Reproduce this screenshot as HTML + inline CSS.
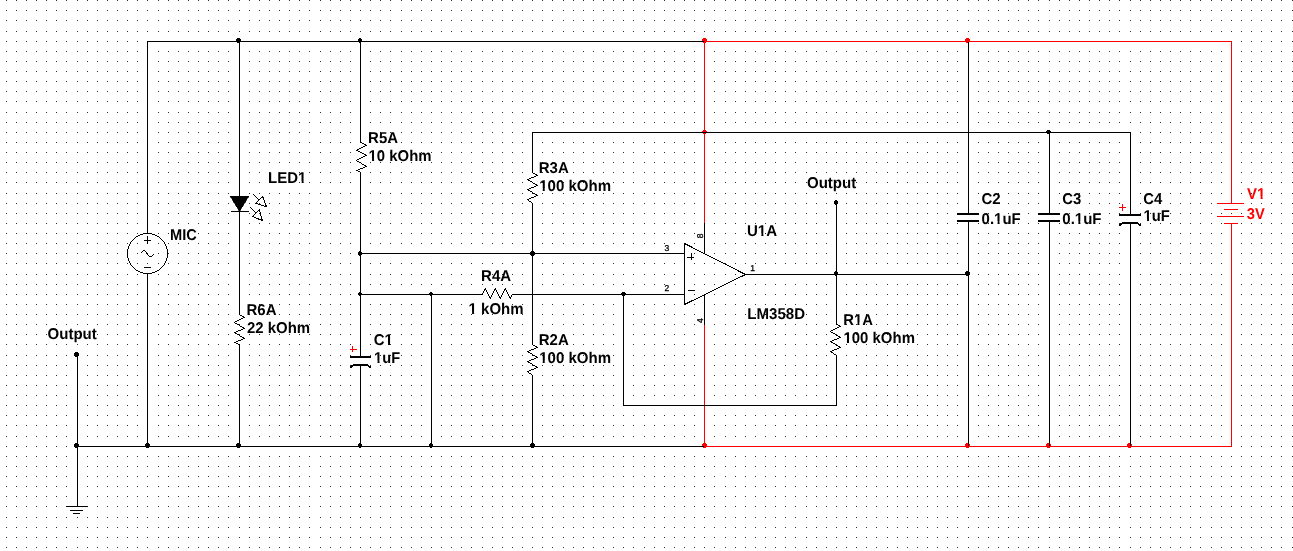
<!DOCTYPE html>
<html><head><meta charset="utf-8"><title>Schematic</title>
<style>
html,body{margin:0;padding:0;background:#fff;}
body{width:1293px;height:551px;overflow:hidden;}
svg{display:block;font-family:"Liberation Sans",sans-serif;font-kerning:none;font-variant-ligatures:none;text-rendering:geometricPrecision;}
</style></head><body>
<svg width="1293" height="551" viewBox="0 0 1293 551">
<defs><pattern id="g" x="0" y="0" width="81" height="81" patternUnits="userSpaceOnUse"><g fill="#2b2b2b" shape-rendering="crispEdges"><rect x="6" y="0" width="1" height="1"/><rect x="16" y="0" width="1" height="1"/><rect x="26" y="0" width="1" height="1"/><rect x="36" y="0" width="1" height="1"/><rect x="46" y="0" width="1" height="1"/><rect x="56" y="0" width="1" height="1"/><rect x="66" y="0" width="1" height="1"/><rect x="77" y="0" width="1" height="1"/><rect x="6" y="10" width="1" height="1"/><rect x="16" y="10" width="1" height="1"/><rect x="26" y="10" width="1" height="1"/><rect x="36" y="10" width="1" height="1"/><rect x="46" y="10" width="1" height="1"/><rect x="56" y="10" width="1" height="1"/><rect x="66" y="10" width="1" height="1"/><rect x="77" y="10" width="1" height="1"/><rect x="6" y="20" width="1" height="1"/><rect x="16" y="20" width="1" height="1"/><rect x="26" y="20" width="1" height="1"/><rect x="36" y="20" width="1" height="1"/><rect x="46" y="20" width="1" height="1"/><rect x="56" y="20" width="1" height="1"/><rect x="66" y="20" width="1" height="1"/><rect x="77" y="20" width="1" height="1"/><rect x="6" y="31" width="1" height="1"/><rect x="16" y="31" width="1" height="1"/><rect x="26" y="31" width="1" height="1"/><rect x="36" y="31" width="1" height="1"/><rect x="46" y="31" width="1" height="1"/><rect x="56" y="31" width="1" height="1"/><rect x="66" y="31" width="1" height="1"/><rect x="77" y="31" width="1" height="1"/><rect x="6" y="41" width="1" height="1"/><rect x="16" y="41" width="1" height="1"/><rect x="26" y="41" width="1" height="1"/><rect x="36" y="41" width="1" height="1"/><rect x="46" y="41" width="1" height="1"/><rect x="56" y="41" width="1" height="1"/><rect x="66" y="41" width="1" height="1"/><rect x="77" y="41" width="1" height="1"/><rect x="6" y="51" width="1" height="1"/><rect x="16" y="51" width="1" height="1"/><rect x="26" y="51" width="1" height="1"/><rect x="36" y="51" width="1" height="1"/><rect x="46" y="51" width="1" height="1"/><rect x="56" y="51" width="1" height="1"/><rect x="66" y="51" width="1" height="1"/><rect x="77" y="51" width="1" height="1"/><rect x="6" y="61" width="1" height="1"/><rect x="16" y="61" width="1" height="1"/><rect x="26" y="61" width="1" height="1"/><rect x="36" y="61" width="1" height="1"/><rect x="46" y="61" width="1" height="1"/><rect x="56" y="61" width="1" height="1"/><rect x="66" y="61" width="1" height="1"/><rect x="77" y="61" width="1" height="1"/><rect x="6" y="71" width="1" height="1"/><rect x="16" y="71" width="1" height="1"/><rect x="26" y="71" width="1" height="1"/><rect x="36" y="71" width="1" height="1"/><rect x="46" y="71" width="1" height="1"/><rect x="56" y="71" width="1" height="1"/><rect x="66" y="71" width="1" height="1"/><rect x="77" y="71" width="1" height="1"/></g></pattern></defs>
<rect width="1293" height="551" fill="#fff"/>
<rect width="1293" height="551" fill="url(#g)"/>
<g shape-rendering="crispEdges"><rect x="237" y="38" width="3" height="5" fill="#000"/><rect x="236" y="39" width="5" height="3" fill="#000"/><rect x="359" y="38" width="2" height="5" fill="#000"/><rect x="358" y="39" width="4" height="3" fill="#000"/><rect x="359" y="251" width="2" height="5" fill="#000"/><rect x="358" y="252" width="4" height="3" fill="#000"/><rect x="531" y="251" width="3" height="5" fill="#000"/><rect x="530" y="252" width="5" height="3" fill="#000"/><rect x="359" y="292" width="2" height="4" fill="#000"/><rect x="358" y="293" width="4" height="2" fill="#000"/><rect x="430" y="292" width="2" height="4" fill="#000"/><rect x="429" y="293" width="4" height="2" fill="#000"/><rect x="622" y="292" width="3" height="4" fill="#000"/><rect x="621" y="293" width="5" height="2" fill="#000"/><rect x="835" y="271" width="2" height="5" fill="#000"/><rect x="834" y="272" width="4" height="3" fill="#000"/><rect x="966" y="271" width="3" height="5" fill="#000"/><rect x="965" y="272" width="5" height="3" fill="#000"/><rect x="1047" y="130" width="3" height="4" fill="#000"/><rect x="1046" y="131" width="5" height="2" fill="#000"/><rect x="75" y="443" width="3" height="5" fill="#000"/><rect x="74" y="444" width="5" height="3" fill="#000"/><rect x="146" y="443" width="3" height="5" fill="#000"/><rect x="145" y="444" width="5" height="3" fill="#000"/><rect x="237" y="443" width="3" height="5" fill="#000"/><rect x="236" y="444" width="5" height="3" fill="#000"/><rect x="359" y="443" width="2" height="5" fill="#000"/><rect x="358" y="444" width="4" height="3" fill="#000"/><rect x="430" y="443" width="2" height="5" fill="#000"/><rect x="429" y="444" width="4" height="3" fill="#000"/><rect x="531" y="443" width="3" height="5" fill="#000"/><rect x="530" y="444" width="5" height="3" fill="#000"/><rect x="75" y="352" width="3" height="5" fill="#000"/><rect x="74" y="353" width="5" height="3" fill="#000"/><rect x="835" y="200" width="2" height="5" fill="#000"/><rect x="834" y="201" width="4" height="3" fill="#000"/><rect x="703" y="38" width="3" height="5" fill="#ff0000"/><rect x="702" y="39" width="5" height="3" fill="#ff0000"/><rect x="966" y="38" width="3" height="5" fill="#ff0000"/><rect x="965" y="39" width="5" height="3" fill="#ff0000"/><rect x="703" y="443" width="3" height="5" fill="#ff0000"/><rect x="702" y="444" width="5" height="3" fill="#ff0000"/><rect x="966" y="443" width="3" height="5" fill="#ff0000"/><rect x="965" y="444" width="5" height="3" fill="#ff0000"/><rect x="1047" y="443" width="3" height="5" fill="#ff0000"/><rect x="1046" y="444" width="5" height="3" fill="#ff0000"/><rect x="1128" y="443" width="3" height="5" fill="#ff0000"/><rect x="1127" y="444" width="5" height="3" fill="#ff0000"/><rect x="703" y="130" width="3" height="4" fill="#ff0000"/><rect x="702" y="131" width="5" height="2" fill="#ff0000"/></g>
<g shape-rendering="crispEdges"><rect x="704" y="41" width="528" height="1" fill="#ff0000"/><rect x="704" y="446" width="528" height="1" fill="#ff0000"/><rect x="704" y="41" width="1" height="183" fill="#ff0000"/><rect x="704" y="325" width="1" height="122" fill="#ff0000"/><rect x="1231" y="41" width="1" height="163" fill="#ff0000"/><rect x="1231" y="223" width="1" height="224" fill="#ff0000"/><rect x="1217" y="203" width="27" height="1" fill="#ff0000"/><rect x="1224" y="209" width="14" height="1" fill="#ff0000"/><rect x="1217" y="216" width="27" height="1" fill="#ff0000"/><rect x="1224" y="223" width="14" height="1" fill="#ff0000"/><rect x="350" y="349" width="7" height="1" fill="#ff0000"/><rect x="352" y="346" width="1" height="6" fill="#ff0000"/><rect x="1119" y="207" width="7" height="1" fill="#ff0000"/><rect x="1122" y="204" width="1" height="7" fill="#ff0000"/><rect x="147" y="41" width="557" height="1" fill="#000"/><rect x="77" y="446" width="627" height="1" fill="#000"/><rect x="147" y="41" width="1" height="193" fill="#000"/><rect x="147" y="274" width="1" height="173" fill="#000"/><rect x="239" y="41" width="1" height="156" fill="#000"/><rect x="239" y="211" width="1" height="104" fill="#000"/><rect x="239" y="344" width="1" height="103" fill="#000"/><rect x="360" y="41" width="1" height="102" fill="#000"/><rect x="360" y="172" width="1" height="185" fill="#000"/><rect x="360" y="365" width="1" height="82" fill="#000"/><rect x="360" y="253" width="325" height="1" fill="#000"/><rect x="360" y="294" width="123" height="1" fill="#000"/><rect x="512" y="294" width="173" height="1" fill="#000"/><rect x="431" y="294" width="1" height="153" fill="#000"/><rect x="532" y="132" width="1" height="41" fill="#000"/><rect x="532" y="203" width="1" height="142" fill="#000"/><rect x="532" y="375" width="1" height="72" fill="#000"/><rect x="532" y="132" width="599" height="1" fill="#000"/><rect x="623" y="294" width="1" height="112" fill="#000"/><rect x="623" y="405" width="214" height="1" fill="#000"/><rect x="836" y="203" width="1" height="122" fill="#000"/><rect x="836" y="355" width="1" height="51" fill="#000"/><rect x="745" y="274" width="224" height="1" fill="#000"/><rect x="968" y="42" width="1" height="172" fill="#000"/><rect x="968" y="221" width="1" height="225" fill="#000"/><rect x="1049" y="132" width="1" height="82" fill="#000"/><rect x="1049" y="221" width="1" height="225" fill="#000"/><rect x="1130" y="132" width="1" height="83" fill="#000"/><rect x="1130" y="224" width="1" height="222" fill="#000"/><rect x="704" y="223" width="1" height="31" fill="#000"/><rect x="704" y="295" width="1" height="30" fill="#000"/><rect x="77" y="355" width="1" height="152" fill="#000"/><rect x="66" y="506" width="22" height="1" fill="#000"/><rect x="70" y="510" width="13" height="1" fill="#000"/><rect x="73" y="513" width="7" height="1" fill="#000"/><rect x="957" y="213" width="22" height="2" fill="#000"/><rect x="957" y="220" width="22" height="2" fill="#000"/><rect x="1038" y="213" width="22" height="2" fill="#000"/><rect x="1038" y="220" width="22" height="2" fill="#000"/><rect x="350" y="356" width="21" height="2" fill="#000"/><rect x="353" y="364" width="15" height="2" fill="#000"/><rect x="1119" y="214" width="22" height="2" fill="#000"/><rect x="1122" y="222" width="16" height="2" fill="#000"/><rect x="239" y="314" width="1" height="1" fill="#000"/><rect x="240" y="315" width="2" height="1" fill="#000"/><rect x="242" y="316" width="2" height="1" fill="#000"/><rect x="243" y="317" width="2" height="1" fill="#000"/><rect x="241" y="318" width="2" height="1" fill="#000"/><rect x="239" y="319" width="2" height="1" fill="#000"/><rect x="237" y="320" width="2" height="1" fill="#000"/><rect x="235" y="321" width="2" height="1" fill="#000"/><rect x="234" y="322" width="1" height="1" fill="#000"/><rect x="235" y="323" width="2" height="1" fill="#000"/><rect x="237" y="324" width="2" height="1" fill="#000"/><rect x="239" y="325" width="1" height="1" fill="#000"/><rect x="240" y="326" width="2" height="1" fill="#000"/><rect x="242" y="327" width="2" height="1" fill="#000"/><rect x="243" y="328" width="2" height="1" fill="#000"/><rect x="241" y="329" width="2" height="1" fill="#000"/><rect x="238" y="330" width="3" height="1" fill="#000"/><rect x="236" y="331" width="2" height="1" fill="#000"/><rect x="234" y="332" width="2" height="1" fill="#000"/><rect x="235" y="333" width="2" height="1" fill="#000"/><rect x="237" y="334" width="2" height="1" fill="#000"/><rect x="239" y="335" width="1" height="1" fill="#000"/><rect x="240" y="336" width="2" height="1" fill="#000"/><rect x="242" y="337" width="2" height="1" fill="#000"/><rect x="243" y="338" width="2" height="1" fill="#000"/><rect x="241" y="339" width="2" height="1" fill="#000"/><rect x="238" y="340" width="3" height="1" fill="#000"/><rect x="236" y="341" width="2" height="1" fill="#000"/><rect x="234" y="342" width="2" height="1" fill="#000"/><rect x="236" y="343" width="2" height="1" fill="#000"/><rect x="238" y="344" width="2" height="1" fill="#000"/><rect x="360" y="142" width="2" height="1" fill="#000"/><rect x="362" y="143" width="2" height="1" fill="#000"/><rect x="364" y="144" width="2" height="1" fill="#000"/><rect x="365" y="145" width="2" height="1" fill="#000"/><rect x="363" y="146" width="2" height="1" fill="#000"/><rect x="361" y="147" width="2" height="1" fill="#000"/><rect x="359" y="148" width="2" height="1" fill="#000"/><rect x="357" y="149" width="2" height="1" fill="#000"/><rect x="356" y="150" width="2" height="1" fill="#000"/><rect x="358" y="151" width="2" height="1" fill="#000"/><rect x="360" y="152" width="2" height="1" fill="#000"/><rect x="362" y="153" width="2" height="1" fill="#000"/><rect x="364" y="154" width="2" height="1" fill="#000"/><rect x="365" y="155" width="2" height="1" fill="#000"/><rect x="363" y="156" width="2" height="1" fill="#000"/><rect x="361" y="157" width="2" height="1" fill="#000"/><rect x="359" y="158" width="2" height="1" fill="#000"/><rect x="357" y="159" width="2" height="1" fill="#000"/><rect x="356" y="160" width="1" height="1" fill="#000"/><rect x="357" y="161" width="2" height="1" fill="#000"/><rect x="359" y="162" width="2" height="1" fill="#000"/><rect x="361" y="163" width="1" height="1" fill="#000"/><rect x="362" y="164" width="2" height="1" fill="#000"/><rect x="364" y="165" width="2" height="1" fill="#000"/><rect x="365" y="166" width="2" height="1" fill="#000"/><rect x="363" y="167" width="2" height="1" fill="#000"/><rect x="360" y="168" width="3" height="1" fill="#000"/><rect x="358" y="169" width="2" height="1" fill="#000"/><rect x="356" y="170" width="2" height="1" fill="#000"/><rect x="358" y="171" width="2" height="1" fill="#000"/><rect x="360" y="172" width="1" height="1" fill="#000"/><rect x="532" y="172" width="1" height="1" fill="#000"/><rect x="533" y="173" width="2" height="1" fill="#000"/><rect x="535" y="174" width="2" height="1" fill="#000"/><rect x="536" y="175" width="2" height="1" fill="#000"/><rect x="534" y="176" width="2" height="1" fill="#000"/><rect x="531" y="177" width="3" height="1" fill="#000"/><rect x="529" y="178" width="2" height="1" fill="#000"/><rect x="527" y="179" width="2" height="1" fill="#000"/><rect x="528" y="180" width="2" height="1" fill="#000"/><rect x="530" y="181" width="2" height="1" fill="#000"/><rect x="532" y="182" width="1" height="1" fill="#000"/><rect x="533" y="183" width="2" height="1" fill="#000"/><rect x="535" y="184" width="2" height="1" fill="#000"/><rect x="536" y="185" width="2" height="1" fill="#000"/><rect x="534" y="186" width="2" height="1" fill="#000"/><rect x="531" y="187" width="3" height="1" fill="#000"/><rect x="529" y="188" width="2" height="1" fill="#000"/><rect x="527" y="189" width="2" height="1" fill="#000"/><rect x="528" y="190" width="2" height="1" fill="#000"/><rect x="530" y="191" width="2" height="1" fill="#000"/><rect x="532" y="192" width="1" height="1" fill="#000"/><rect x="533" y="193" width="2" height="1" fill="#000"/><rect x="535" y="194" width="2" height="1" fill="#000"/><rect x="536" y="195" width="2" height="1" fill="#000"/><rect x="534" y="196" width="2" height="1" fill="#000"/><rect x="531" y="197" width="3" height="1" fill="#000"/><rect x="529" y="198" width="2" height="1" fill="#000"/><rect x="527" y="199" width="2" height="1" fill="#000"/><rect x="528" y="200" width="1" height="1" fill="#000"/><rect x="529" y="201" width="2" height="1" fill="#000"/><rect x="531" y="202" width="1" height="1" fill="#000"/><rect x="532" y="203" width="1" height="1" fill="#000"/><rect x="532" y="344" width="1" height="1" fill="#000"/><rect x="533" y="345" width="2" height="1" fill="#000"/><rect x="535" y="346" width="2" height="1" fill="#000"/><rect x="536" y="347" width="2" height="1" fill="#000"/><rect x="534" y="348" width="2" height="1" fill="#000"/><rect x="531" y="349" width="3" height="1" fill="#000"/><rect x="529" y="350" width="2" height="1" fill="#000"/><rect x="527" y="351" width="2" height="1" fill="#000"/><rect x="528" y="352" width="2" height="1" fill="#000"/><rect x="530" y="353" width="2" height="1" fill="#000"/><rect x="532" y="354" width="1" height="1" fill="#000"/><rect x="533" y="355" width="2" height="1" fill="#000"/><rect x="535" y="356" width="2" height="1" fill="#000"/><rect x="536" y="357" width="2" height="1" fill="#000"/><rect x="534" y="358" width="2" height="1" fill="#000"/><rect x="531" y="359" width="3" height="1" fill="#000"/><rect x="529" y="360" width="2" height="1" fill="#000"/><rect x="527" y="361" width="2" height="1" fill="#000"/><rect x="528" y="362" width="2" height="1" fill="#000"/><rect x="530" y="363" width="2" height="1" fill="#000"/><rect x="532" y="364" width="1" height="1" fill="#000"/><rect x="533" y="365" width="2" height="1" fill="#000"/><rect x="535" y="366" width="2" height="1" fill="#000"/><rect x="536" y="367" width="2" height="1" fill="#000"/><rect x="534" y="368" width="2" height="1" fill="#000"/><rect x="531" y="369" width="3" height="1" fill="#000"/><rect x="529" y="370" width="2" height="1" fill="#000"/><rect x="527" y="371" width="2" height="1" fill="#000"/><rect x="528" y="372" width="1" height="1" fill="#000"/><rect x="529" y="373" width="2" height="1" fill="#000"/><rect x="531" y="374" width="1" height="1" fill="#000"/><rect x="532" y="375" width="1" height="1" fill="#000"/><rect x="836" y="324" width="2" height="1" fill="#000"/><rect x="838" y="325" width="2" height="1" fill="#000"/><rect x="839" y="326" width="2" height="1" fill="#000"/><rect x="837" y="327" width="2" height="1" fill="#000"/><rect x="835" y="328" width="2" height="1" fill="#000"/><rect x="833" y="329" width="2" height="1" fill="#000"/><rect x="831" y="330" width="2" height="1" fill="#000"/><rect x="830" y="331" width="1" height="1" fill="#000"/><rect x="831" y="332" width="2" height="1" fill="#000"/><rect x="833" y="333" width="2" height="1" fill="#000"/><rect x="835" y="334" width="1" height="1" fill="#000"/><rect x="836" y="335" width="2" height="1" fill="#000"/><rect x="838" y="336" width="2" height="1" fill="#000"/><rect x="839" y="337" width="2" height="1" fill="#000"/><rect x="837" y="338" width="2" height="1" fill="#000"/><rect x="834" y="339" width="3" height="1" fill="#000"/><rect x="832" y="340" width="2" height="1" fill="#000"/><rect x="830" y="341" width="2" height="1" fill="#000"/><rect x="831" y="342" width="2" height="1" fill="#000"/><rect x="833" y="343" width="2" height="1" fill="#000"/><rect x="835" y="344" width="1" height="1" fill="#000"/><rect x="836" y="345" width="2" height="1" fill="#000"/><rect x="838" y="346" width="2" height="1" fill="#000"/><rect x="839" y="347" width="2" height="1" fill="#000"/><rect x="837" y="348" width="2" height="1" fill="#000"/><rect x="834" y="349" width="3" height="1" fill="#000"/><rect x="832" y="350" width="2" height="1" fill="#000"/><rect x="830" y="351" width="2" height="1" fill="#000"/><rect x="831" y="352" width="2" height="1" fill="#000"/><rect x="833" y="353" width="1" height="1" fill="#000"/><rect x="834" y="354" width="2" height="1" fill="#000"/><rect x="836" y="355" width="1" height="1" fill="#000"/><rect x="485" y="288" width="1" height="1" fill="#000"/><rect x="495" y="288" width="1" height="1" fill="#000"/><rect x="505" y="288" width="1" height="1" fill="#000"/><rect x="484" y="289" width="2" height="1" fill="#000"/><rect x="494" y="289" width="2" height="1" fill="#000"/><rect x="504" y="289" width="2" height="1" fill="#000"/><rect x="484" y="290" width="1" height="1" fill="#000"/><rect x="486" y="290" width="1" height="1" fill="#000"/><rect x="494" y="290" width="1" height="1" fill="#000"/><rect x="496" y="290" width="1" height="1" fill="#000"/><rect x="504" y="290" width="1" height="1" fill="#000"/><rect x="506" y="290" width="1" height="1" fill="#000"/><rect x="483" y="291" width="1" height="1" fill="#000"/><rect x="486" y="291" width="1" height="1" fill="#000"/><rect x="493" y="291" width="1" height="1" fill="#000"/><rect x="496" y="291" width="1" height="1" fill="#000"/><rect x="503" y="291" width="1" height="1" fill="#000"/><rect x="506" y="291" width="1" height="1" fill="#000"/><rect x="483" y="292" width="1" height="1" fill="#000"/><rect x="487" y="292" width="1" height="1" fill="#000"/><rect x="493" y="292" width="1" height="1" fill="#000"/><rect x="497" y="292" width="1" height="1" fill="#000"/><rect x="503" y="292" width="1" height="1" fill="#000"/><rect x="507" y="292" width="1" height="1" fill="#000"/><rect x="482" y="293" width="1" height="1" fill="#000"/><rect x="487" y="293" width="1" height="1" fill="#000"/><rect x="492" y="293" width="1" height="1" fill="#000"/><rect x="497" y="293" width="1" height="1" fill="#000"/><rect x="502" y="293" width="1" height="1" fill="#000"/><rect x="507" y="293" width="1" height="1" fill="#000"/><rect x="482" y="294" width="1" height="1" fill="#000"/><rect x="488" y="294" width="1" height="1" fill="#000"/><rect x="492" y="294" width="1" height="1" fill="#000"/><rect x="498" y="294" width="1" height="1" fill="#000"/><rect x="502" y="294" width="1" height="1" fill="#000"/><rect x="508" y="294" width="1" height="1" fill="#000"/><rect x="512" y="294" width="1" height="1" fill="#000"/><rect x="488" y="295" width="1" height="1" fill="#000"/><rect x="491" y="295" width="1" height="1" fill="#000"/><rect x="498" y="295" width="1" height="1" fill="#000"/><rect x="501" y="295" width="1" height="1" fill="#000"/><rect x="508" y="295" width="1" height="1" fill="#000"/><rect x="511" y="295" width="1" height="1" fill="#000"/><rect x="489" y="296" width="1" height="1" fill="#000"/><rect x="491" y="296" width="1" height="1" fill="#000"/><rect x="499" y="296" width="1" height="1" fill="#000"/><rect x="501" y="296" width="1" height="1" fill="#000"/><rect x="509" y="296" width="1" height="1" fill="#000"/><rect x="511" y="296" width="1" height="1" fill="#000"/><rect x="489" y="297" width="2" height="1" fill="#000"/><rect x="499" y="297" width="2" height="1" fill="#000"/><rect x="509" y="297" width="2" height="1" fill="#000"/><rect x="490" y="298" width="1" height="1" fill="#000"/><rect x="500" y="298" width="1" height="1" fill="#000"/><rect x="510" y="298" width="1" height="1" fill="#000"/><rect x="687" y="257" width="7" height="1" fill="#000"/><rect x="691" y="253" width="1" height="7" fill="#000"/><rect x="688" y="290" width="7" height="1" fill="#000"/><rect x="231" y="211" width="18" height="1" fill="#000"/><rect x="144" y="240" width="7" height="1" fill="#000"/><rect x="147" y="236" width="1" height="8" fill="#000"/><rect x="144" y="267" width="7" height="1" fill="#000"/><rect x="141" y="252" width="1" height="1" fill="#000"/><rect x="142" y="251" width="1" height="1" fill="#000"/><rect x="143" y="250" width="1" height="1" fill="#000"/><rect x="144" y="250" width="1" height="1" fill="#000"/><rect x="145" y="251" width="1" height="1" fill="#000"/><rect x="146" y="252" width="1" height="1" fill="#000"/><rect x="146" y="253" width="1" height="1" fill="#000"/><rect x="147" y="253" width="1" height="1" fill="#000"/><rect x="147" y="254" width="1" height="1" fill="#000"/><rect x="148" y="255" width="1" height="1" fill="#000"/><rect x="149" y="256" width="1" height="1" fill="#000"/><rect x="150" y="256" width="1" height="1" fill="#000"/><rect x="151" y="256" width="1" height="1" fill="#000"/><rect x="152" y="255" width="1" height="1" fill="#000"/><rect x="153" y="254" width="1" height="1" fill="#000"/></g>
<g shape-rendering="crispEdges"><path d="M353.6,365 L350.2,367.4" stroke="#000" stroke-width="2" fill="none"/><path d="M367,364.7 L370.6,367.6" stroke="#000" stroke-width="1.6" fill="none"/><path d="M1122.6,223 L1119.2,225.4" stroke="#000" stroke-width="2" fill="none"/><path d="M1137,222.7 L1140.6,225.6" stroke="#000" stroke-width="1.6" fill="none"/><path d="M684.50,243.50 L745.50,274.50 L684.50,304.50 Z" stroke="#000" stroke-width="1" fill="none" stroke-linejoin="bevel"/><path d="M230,196 L249,196 L239.5,211.5 Z" fill="#000" stroke="#000" stroke-width="0.6"/><path d="M252.90,194.00 L259.50,200.40" stroke="#000" stroke-width="1" fill="none" stroke-linejoin="bevel"/><path d="M262.60,196.50 L255.70,203.30 L266.50,206.80 Z" stroke="#000" stroke-width="1" fill="none" stroke-linejoin="bevel"/><path d="M250.30,207.30 L255.70,212.70" stroke="#000" stroke-width="1" fill="none" stroke-linejoin="bevel"/><path d="M259.40,209.70 L252.40,216.50 L262.30,220.60 Z" stroke="#000" stroke-width="1" fill="none" stroke-linejoin="bevel"/><circle cx="147.5" cy="253.5" r="20" stroke="#000" stroke-width="1" fill="none"/></g>
<g style="will-change:transform"><text x="47.58" y="339.05" textLength="49.20" lengthAdjust="spacingAndGlyphs" font-size="15.6" font-weight="bold" fill="#000">Output</text><text x="170.12" y="240.35" textLength="26.78" lengthAdjust="spacingAndGlyphs" font-size="15.6" font-weight="bold" fill="#000">MIC</text><text x="268.10" y="183.25" textLength="38.36" lengthAdjust="spacingAndGlyphs" font-size="15.6" font-weight="bold" fill="#000">LED1</text><text x="246.50" y="314.85" textLength="30.00" lengthAdjust="spacingAndGlyphs" font-size="15.6" font-weight="bold" fill="#000">R6A</text><text x="246.98" y="332.75" textLength="63.15" lengthAdjust="spacingAndGlyphs" font-size="15.6" font-weight="bold" fill="#000">22 kOhm</text><text x="368.10" y="142.85" textLength="29.89" lengthAdjust="spacingAndGlyphs" font-size="15.6" font-weight="bold" fill="#000">R5A</text><text x="368.58" y="160.85" textLength="62.94" lengthAdjust="spacingAndGlyphs" font-size="15.6" font-weight="bold" fill="#000">10 kOhm</text><text x="373.68" y="345.25" textLength="19.18" lengthAdjust="spacingAndGlyphs" font-size="15.6" font-weight="bold" fill="#000">C1</text><text x="374.10" y="362.95" textLength="26.04" lengthAdjust="spacingAndGlyphs" font-size="15.6" font-weight="bold" fill="#000">1uF</text><text x="481.10" y="281.05" textLength="30.00" lengthAdjust="spacingAndGlyphs" font-size="15.6" font-weight="bold" fill="#000">R4A</text><text x="468.58" y="313.55" textLength="54.95" lengthAdjust="spacingAndGlyphs" font-size="15.6" font-weight="bold" fill="#000">1 kOhm</text><text x="538.80" y="172.85" textLength="30.00" lengthAdjust="spacingAndGlyphs" font-size="15.6" font-weight="bold" fill="#000">R3A</text><text x="539.17" y="190.85" textLength="71.96" lengthAdjust="spacingAndGlyphs" font-size="15.6" font-weight="bold" fill="#000">100 kOhm</text><text x="538.80" y="344.95" textLength="30.00" lengthAdjust="spacingAndGlyphs" font-size="15.6" font-weight="bold" fill="#000">R2A</text><text x="539.17" y="362.95" textLength="71.96" lengthAdjust="spacingAndGlyphs" font-size="15.6" font-weight="bold" fill="#000">100 kOhm</text><text x="806.98" y="187.65" textLength="49.30" lengthAdjust="spacingAndGlyphs" font-size="15.6" font-weight="bold" fill="#000">Output</text><text x="747.00" y="235.85" textLength="30.10" lengthAdjust="spacingAndGlyphs" font-size="15.6" font-weight="bold" fill="#000">U1A</text><text x="747.29" y="318.85" textLength="57.74" lengthAdjust="spacingAndGlyphs" font-size="15.6" font-weight="bold" fill="#000">LM358D</text><text x="843.21" y="324.85" textLength="29.68" lengthAdjust="spacingAndGlyphs" font-size="15.6" font-weight="bold" fill="#000">R1A</text><text x="843.48" y="343.15" textLength="71.45" lengthAdjust="spacingAndGlyphs" font-size="15.6" font-weight="bold" fill="#000">100 kOhm</text><text x="981.38" y="203.55" textLength="19.22" lengthAdjust="spacingAndGlyphs" font-size="15.6" font-weight="bold" fill="#000">C2</text><text x="981.61" y="223.55" textLength="39.04" lengthAdjust="spacingAndGlyphs" font-size="15.6" font-weight="bold" fill="#000">0.1uF</text><text x="1062.29" y="203.55" textLength="19.05" lengthAdjust="spacingAndGlyphs" font-size="15.6" font-weight="bold" fill="#000">C3</text><text x="1062.31" y="223.55" textLength="39.24" lengthAdjust="spacingAndGlyphs" font-size="15.6" font-weight="bold" fill="#000">0.1uF</text><text x="1143.19" y="203.55" textLength="18.99" lengthAdjust="spacingAndGlyphs" font-size="15.6" font-weight="bold" fill="#000">C4</text><text x="1143.59" y="221.15" textLength="26.25" lengthAdjust="spacingAndGlyphs" font-size="15.6" font-weight="bold" fill="#000">1uF</text><text x="1247.10" y="198.95" textLength="18.36" lengthAdjust="spacingAndGlyphs" font-size="15.6" font-weight="bold" fill="#ff0000">V1</text><text x="1246.86" y="219.05" textLength="17.94" lengthAdjust="spacingAndGlyphs" font-size="15.6" font-weight="bold" fill="#ff0000">3V</text><text x="664.6" y="251" font-size="8.5" fill="#000" stroke="#000" stroke-width="0.3">3</text><text x="664.4" y="291.3" font-size="8.5" fill="#000" stroke="#000" stroke-width="0.3">2</text><text x="750.3" y="271" font-size="8.5" fill="#000" stroke="#000" stroke-width="0.3">1</text><text transform="translate(702.8,238.2) rotate(-90)" font-size="8.5" fill="#000" stroke="#000" stroke-width="0.3">8</text><text transform="translate(702.8,323) rotate(-90)" font-size="8.5" fill="#000" stroke="#000" stroke-width="0.3">4</text></g>
<g fill="#fff"><rect x="298.36" y="180.86" width="3.26" height="3.09"/><rect x="303.67" y="180.86" width="3.07" height="3.09"/><rect x="368.82" y="158.46" width="3.24" height="3.09"/><rect x="374.10" y="158.46" width="3.05" height="3.09"/><rect x="384.77" y="342.86" width="3.26" height="3.09"/><rect x="390.08" y="342.86" width="3.07" height="3.09"/><rect x="374.32" y="360.56" width="3.20" height="3.09"/><rect x="379.53" y="360.56" width="3.01" height="3.09"/><rect x="468.82" y="311.16" width="3.25" height="3.09"/><rect x="474.13" y="311.16" width="3.06" height="3.09"/><rect x="539.42" y="188.46" width="3.27" height="3.09"/><rect x="544.75" y="188.46" width="3.07" height="3.09"/><rect x="539.42" y="360.56" width="3.27" height="3.09"/><rect x="544.75" y="360.56" width="3.07" height="3.09"/><rect x="758.11" y="233.46" width="3.26" height="3.09"/><rect x="763.44" y="233.46" width="3.07" height="3.09"/><rect x="854.16" y="322.46" width="3.23" height="3.09"/><rect x="859.42" y="322.46" width="3.04" height="3.09"/><rect x="843.72" y="340.76" width="3.25" height="3.09"/><rect x="849.02" y="340.76" width="3.06" height="3.09"/><rect x="994.32" y="221.16" width="3.25" height="3.09"/><rect x="999.61" y="221.16" width="3.06" height="3.09"/><rect x="1075.08" y="221.16" width="3.26" height="3.09"/><rect x="1080.41" y="221.16" width="3.07" height="3.09"/><rect x="1143.82" y="218.76" width="3.22" height="3.09"/><rect x="1149.06" y="218.76" width="3.03" height="3.09"/><rect x="1257.35" y="196.56" width="3.26" height="3.09"/><rect x="1262.67" y="196.56" width="3.07" height="3.09"/></g>
<g fill="#2b2b2b" shape-rendering="crispEdges"><rect x="299" y="182" width="1" height="1"/><rect x="390" y="344" width="1" height="1"/><rect x="471" y="314" width="1" height="1"/><rect x="765" y="233" width="1" height="1"/><rect x="856" y="324" width="1" height="1"/></g>
</svg>
</body></html>
